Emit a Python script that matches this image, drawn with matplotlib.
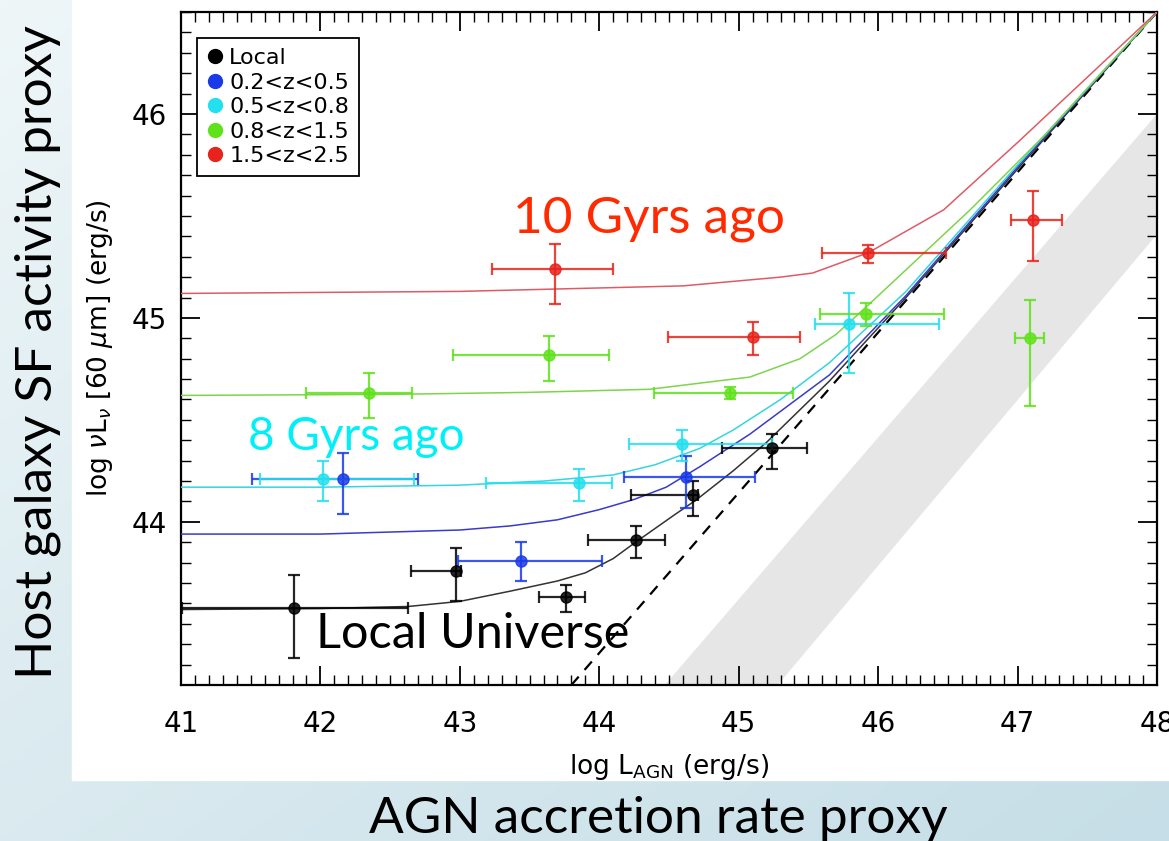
import numpy as np
import matplotlib
matplotlib.use('Agg')
import matplotlib.pyplot as plt
from matplotlib.lines import Line2D
from matplotlib.patches import Rectangle
from matplotlib.colors import LinearSegmentedColormap

# Points with asymmetric error bars
local_x = [41.81, 42.97, 43.76, 44.26, 44.67, 45.24]
local_y = [43.58, 43.76, 43.63, 43.91, 44.13, 44.36]
local_xlo = [0.80, 0.32, 0.19, 0.34, 0.44, 0.36]
local_xhi = [0.82, 0.04, 0.14, 0.21, 0.04, 0.25]
local_ylo = [0.25, 0.15, 0.07, 0.085, 0.10, 0.10]
local_yhi = [0.16, 0.11, 0.06, 0.07, 0.07, 0.07]

z1_x = [42.16, 43.435, 44.625]
z1_y = [44.21, 43.81, 44.22]
z1_xlo = [0.65, 0.445, 0.445]
z1_xhi = [0.54, 0.585, 0.495]
z1_ylo = [0.17, 0.10, 0.15]
z1_yhi = [0.13, 0.09, 0.105]

z2_x = [42.02, 43.855, 44.59, 45.79]
z2_y = [44.21, 44.19, 44.38, 44.97]
z2_xlo = [0.45, 0.665, 0.38, 0.245]
z2_xhi = [0.65, 0.235, 0.65, 0.65]
z2_ylo = [0.11, 0.09, 0.08, 0.24]
z2_yhi = [0.09, 0.07, 0.07, 0.15]

z3_x = [42.35, 43.64, 44.935, 45.915, 47.09]
z3_y = [44.63, 44.82, 44.63, 45.02, 44.90]
z3_xlo = [0.45, 0.69, 0.545, 0.33, 0.11]
z3_xhi = [0.31, 0.43, 0.455, 0.555, 0.10]
z3_ylo = [0.12, 0.13, 0.03, 0.06, 0.33]
z3_yhi = [0.10, 0.09, 0.03, 0.055, 0.19]

z4_x = [43.68, 45.10, 45.93, 47.11]
z4_y = [45.24, 44.905, 45.317, 45.48]
z4_xlo = [0.45, 0.61, 0.33, 0.16]
z4_xhi = [0.42, 0.34, 0.56, 0.21]
z4_ylo = [0.17, 0.085, 0.047, 0.20]
z4_yhi = [0.12, 0.075, 0.04, 0.14]

# Model curves (polyline vertices)
local_cx = [41, 42, 42.63, 43.0, 43.36, 43.7, 43.9, 44.1, 44.26, 44.53, 44.7, 44.96, 45.2, 45.65, 46.2, 47, 48]
local_cy = [43.57, 43.575, 43.585, 43.61, 43.66, 43.71, 43.75, 43.82, 43.9, 44.03, 44.11, 44.25, 44.39, 44.69, 45.1, 45.73, 46.5]
z1_cx = [41, 42, 43, 43.36, 43.7, 44.0, 44.25, 44.48, 44.72, 45.08, 45.65, 46.2, 47, 48]
z1_cy = [43.94, 43.94, 43.96, 43.98, 44.01, 44.06, 44.11, 44.17, 44.27, 44.43, 44.72, 45.11, 45.74, 46.5]
z2_cx = [41, 42, 43, 43.6, 44.1, 44.4, 44.72, 44.96, 45.3, 45.65, 46.2, 47, 48]
z2_cy = [44.17, 44.17, 44.18, 44.2, 44.23, 44.28, 44.36, 44.45, 44.6, 44.78, 45.13, 45.75, 46.5]
z3_cx = [41, 42.5, 43.5, 44.36, 45.08, 45.44, 45.7, 45.94, 46.3, 46.66, 47.2, 48]
z3_cy = [44.62, 44.625, 44.635, 44.65, 44.71, 44.8, 44.92, 45.07, 45.3, 45.53, 45.9, 46.5]
z4_cx = [41, 43, 44.6, 45.3, 45.53, 45.93, 46.47, 47.0, 48]
z4_cy = [45.12, 45.13, 45.157, 45.2, 45.22, 45.32, 45.53, 45.86, 46.5]

# one-to-one dashed line and grey band
dash_x = [43.8, 48.0]
dash_y = [43.2, 46.5]
band_x = [44.47, 48.0, 48.0, 45.28]
band_y = [43.2, 46.0, 45.41, 43.2]

labels = ['Local', '0.2<z<0.5', '0.5<z<0.8', '0.8<z<1.5', '1.5<z<2.5']
pt_colors = ['#000000', '#1a3ae8', '#22e0ee', '#5fe21a', '#e8231b']
ln_colors = ['#333333', '#3a3acb', '#33d6e0', '#7fd44c', '#e05a66']

groups = [
    (local_x, local_y, local_xlo, local_xhi, local_ylo, local_yhi, local_cx, local_cy),
    (z1_x, z1_y, z1_xlo, z1_xhi, z1_ylo, z1_yhi, z1_cx, z1_cy),
    (z2_x, z2_y, z2_xlo, z2_xhi, z2_ylo, z2_yhi, z2_cx, z2_cy),
    (z3_x, z3_y, z3_xlo, z3_xhi, z3_ylo, z3_yhi, z3_cx, z3_cy),
    (z4_x, z4_y, z4_xlo, z4_xhi, z4_ylo, z4_yhi, z4_cx, z4_cy),
]

W, H = 1169, 841
fig = plt.figure(figsize=(W / 100, H / 100), dpi=100)

# slide background: light blue gradient with white panel
bg = fig.add_axes([0, 0, 1, 1], zorder=-5)
bg.axis('off')
gx, gy = np.meshgrid(np.linspace(0, 1, 200), np.linspace(0, 1, 200))
grad = 0.5 * gx + 0.5 * gy
cmap = LinearSegmentedColormap.from_list('bg', ['#eef6f8', '#c6dee7'])
bg.imshow(grad, extent=[0, 1, 0, 1], aspect='auto', cmap=cmap, origin='upper')
bg.add_patch(Rectangle((72 / W, 61 / H), 1, 1, color='white', transform=bg.transAxes))
bg.set_xlim(0, 1)
bg.set_ylim(0, 1)

ax = fig.add_axes([181 / W, 1 - 685 / H, 976 / W, 673 / H])
ax.set_facecolor('white')

ax.fill(band_x, band_y, color='#e6e6e6', lw=0, zorder=1)
ax.plot(dash_x, dash_y, color='black', lw=1.6, ls=(0, (5, 4)), zorder=2)

for (x, y, xlo, xhi, ylo, yhi, cx, cy), pc, lc in zip(groups, pt_colors, ln_colors):
    ax.plot(cx, cy, color=lc, lw=1.1, zorder=3)
    ax.errorbar(x, y, xerr=[xlo, xhi], yerr=[ylo, yhi], fmt='o', color=pc,
                ecolor=pc, elinewidth=1.6, capsize=4.5, capthick=1.6,
                markersize=8, alpha=0.85, zorder=4)

ax.set_xlim(41, 48)
ax.set_ylim(43.2, 46.5)
ax.set_xticks(np.arange(41, 49, 1))
ax.set_yticks([44, 45, 46])
ax.set_xticks(np.arange(41, 48.01, 0.1), minor=True)
ax.set_yticks(np.arange(43.3, 46.51, 0.1), minor=True)
ax.tick_params(which='both', direction='in', top=True, right=True)
ax.tick_params(which='major', length=14, width=1.3, labelsize=20)
ax.tick_params(which='minor', length=7, width=1.0)
ax.tick_params(axis='x', which='major', pad=18)
ax.tick_params(axis='y', which='major', pad=10)
for sp in ax.spines.values():
    sp.set_linewidth(1.6)

ax.set_xlabel(r'log L$_{\mathregular{AGN}}$ (erg/s)', fontsize=19, labelpad=10)
ax.set_ylabel(r'log $\nu$L$_\nu$ [60 $\mu$m] (erg/s)', fontsize=19, labelpad=12)

handles = [Line2D([], [], marker='o', ls='none', color=c, markersize=10) for c in pt_colors]
leg = ax.legend(handles, labels, loc='upper left', bbox_to_anchor=(0.0164, 0.961),
                borderaxespad=0, fontsize=16, frameon=True, fancybox=False,
                edgecolor='black', framealpha=1, handlelength=0.7,
                handletextpad=0.3, labelspacing=0.2, borderpad=0.45)
leg.get_frame().set_linewidth(1.3)

ax.text(43.38, 45.42, '10 Gyrs ago', color='#ff2a00', fontsize=37,
        family='Lato', ha='left', va='baseline', zorder=6)
ax.text(41.48, 44.353, '8 Gyrs ago', color='#00f0f8', fontsize=33,
        family='Lato', ha='left', va='baseline', zorder=6)
ax.text(41.97, 43.38, 'Local Universe', color='black', fontsize=35,
        family='Lato', ha='left', va='baseline', zorder=6)

fig.text(38 / W, 1 - 352 / H, 'Host galaxy SF activity proxy', rotation=90,
         fontsize=37, family='Lato', ha='center', va='center')
fig.text(658 / W, 1 - 833 / H, 'AGN accretion rate proxy', fontsize=37,
         family='Lato', ha='center', va='baseline')

fig.savefig('out.png', dpi=100)
